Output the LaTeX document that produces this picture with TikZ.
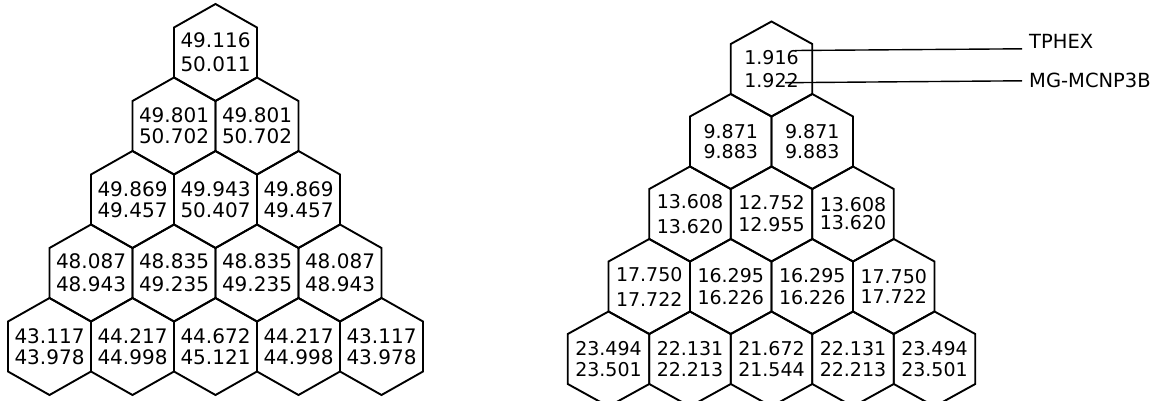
\documentclass[tikz,border=0pt]{standalone}
\usepackage{fontspec}
\setmainfont{DejaVu Sans}
\usetikzlibrary{positioning}

\begin{document}
\begin{tikzpicture}[x=1pt,y=-1pt,
  hexcell/.style={line width=1.9pt,line join=miter},
  val/.style={font=\fontsize{20}{22}\selectfont,align=center,inner sep=0pt},
  valr/.style={val,font=\fontsize{19}{20}\selectfont},
  lead/.style={line width=1.4pt},
  tag/.style={font=\fontsize{19.5}{22}\selectfont,anchor=west,inner xsep=7pt,inner ysep=0pt}]
  \useasboundingbox (0,0) rectangle (1164,401);
  \clip (0,0) rectangle (1164,401);
  % left pyramid
  \foreach \r/\c/\a/\b/\g in {
    0/0/49.116/50.011/2pt,
    1/0/49.801/50.702/-1pt, 1/1/49.801/50.702/-1pt,
    2/0/49.869/49.457/-1pt, 2/1/49.943/50.407/-1pt, 2/2/49.869/49.457/-1pt,
    3/0/48.087/48.943/1pt, 3/1/48.835/49.235/1pt, 3/2/48.835/49.235/1pt, 3/3/48.087/48.943/1pt,
    4/0/43.117/43.978/-1pt, 4/1/44.217/44.998/-1pt, 4/2/44.672/45.121/-1pt, 4/3/44.217/44.998/-1pt, 4/4/43.117/43.978/-1pt}
    {\node[val] (L-\r-\c) at ({215.5+(\c-\r/2)*83},{52.5+73.5*\r}) {\a\\[\g]\b};
     \draw[hexcell] (L-\r-\c.center) ++(0,-48.5) -- ++(41.5,23.5) -- ++(0,50) -- ++(-41.5,23.5)
       -- ++(-41.5,-23.5) -- ++(0,-50) -- cycle;}
  % right pyramid
  \foreach \r/\c/\a/\b/\g in {
    0/0/1.916/1.922/2.5pt,
    1/0/9.871/9.883/0pt, 1/1/9.871/9.883/0pt,
    2/0/13.608/13.620/5pt, 2/1/12.752/12.955/2pt, 2/2/13.608/13.620/-2pt,
    3/0/17.750/17.722/5pt, 3/1/16.295/16.226/2pt, 3/2/16.295/16.226/2pt, 3/3/17.750/17.722/0pt,
    4/0/23.494/23.501/1.5pt, 4/1/22.131/22.213/1.5pt, 4/2/21.672/21.544/1.5pt, 4/3/22.131/22.213/1.5pt, 4/4/23.494/23.501/1.5pt}
    {\node[valr] (R-\r-\c) at ({771.5+(\c-\r/2)*81.5},{69+72.5*\r}) {\a\\[\g]\b};
     \draw[hexcell] (R-\r-\c.center) ++(0,-47.5) -- ++(40.75,22.5) -- ++(0,50) -- ++(-40.75,22.5)
       -- ++(-40.75,-22.5) -- ++(0,-50) -- cycle;}
  % leaders
  \node[tag] (tphex) at (1022,41.7) {TPHEX};
  \node[tag] (mgmcnp) at (1022,80.8) {MG-MCNP3B};
  \coordinate (tp-end) at (795,50.5);
  \coordinate (mg-end) at (785,82.7);
  \draw[lead] (tp-end) -- (tphex.base west);
  \draw[lead] (mg-end) -- (mgmcnp.west);
\end{tikzpicture}
\end{document}
